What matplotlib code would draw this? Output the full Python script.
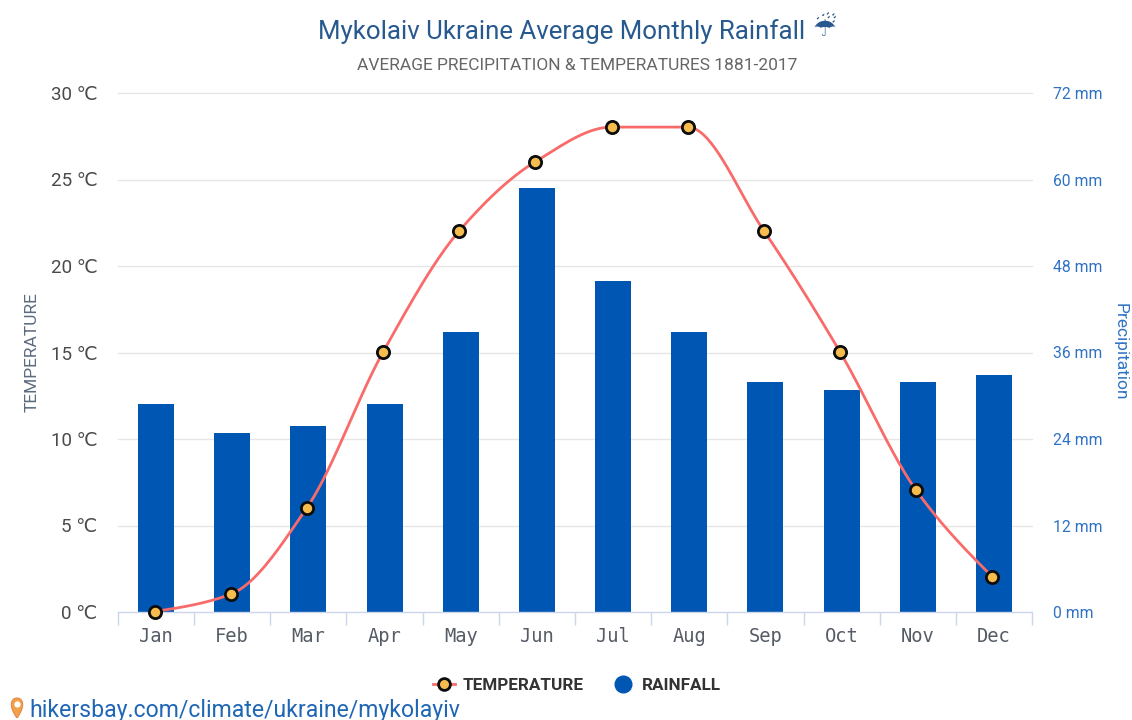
import numpy as np
import matplotlib
matplotlib.use("Agg")
import matplotlib.pyplot as plt
from matplotlib.lines import Line2D
from matplotlib.path import Path
from matplotlib.patches import PathPatch
from matplotlib.transforms import ScaledTranslation

months = ["Jan", "Feb", "Mar", "Apr", "May", "Jun", "Jul", "Aug", "Sep", "Oct", "Nov", "Dec"]
temperature = [0, 1, 6, 15, 22, 26, 28, 28, 22, 15, 7, 2]
rainfall = [29, 25, 26, 29, 39, 59, 46, 39, 32, 31, 32, 33]
temp_ticks = [0, 5, 10, 15, 20, 25, 30]
rain_ticks = [0, 12, 24, 36, 48, 60, 72]

W, H = 1132, 720
FONT = ["Roboto", "DejaVu Sans"]
plt.rcParams["font.family"] = FONT


def monotone_curve(xs, ys, n=40):
    """Monotone cubic smoothing through the data points."""
    xs = np.asarray(xs, float)
    ys = np.asarray(ys, float)
    d = np.diff(ys) / np.diff(xs)
    m = np.zeros_like(ys)
    for i in range(1, len(ys) - 1):
        m[i] = 0 if d[i - 1] * d[i] <= 0 else 2 * d[i - 1] * d[i] / (d[i - 1] + d[i])
    m[0] = (3 * d[0] - m[1]) / 2
    m[-1] = (3 * d[-1] - m[-2]) / 2
    ox, oy = [], []
    for i in range(len(xs) - 1):
        t = np.linspace(0, 1, n)
        h = xs[i + 1] - xs[i]
        oy.append((2*t**3 - 3*t**2 + 1) * ys[i] + (t**3 - 2*t**2 + t) * h * m[i]
                  + (-2*t**3 + 3*t**2) * ys[i + 1] + (t**3 - t**2) * h * m[i + 1])
        ox.append(xs[i] + t * h)
    return np.concatenate(ox), np.concatenate(oy)


fig = plt.figure(figsize=(W / 100, H / 100), dpi=100, facecolor="white")
left, right, top, bottom = 118, 1032, 93, 612
ax = fig.add_axes([left / W, 1 - bottom / H, (right - left) / W, (bottom - top) / H])
ax2 = ax.twinx()

x = np.arange(len(months))
bar_shift = ax2.transData + ScaledTranslation(0, -1 / 100, fig.dpi_scale_trans)
ax2.bar(x, rainfall, width=0.473, color="#0057b3", zorder=2, transform=bar_shift)
ax2.set_ylim(0, 72)
ax2.set_yticks(rain_ticks)
ax2.set_yticklabels([f"{v} mm" for v in rain_ticks], color="#2f72c4", fontsize=11.3)
ax2.tick_params(axis="y", length=0, pad=15)
ax2.set_ylabel("Precipitation", color="#2f72c4", fontsize=12.5, rotation=270, labelpad=0)
ax2.yaxis.set_label_coords((1128 - left) / (right - left), (bottom - 352) / (bottom - top))

ax.set_zorder(ax2.get_zorder() + 1)
ax.patch.set_visible(False)
ax2.patch.set_facecolor("white")
ax.set_xlim(-0.5, 11.5)
ax.set_ylim(0, 30)
shift = ax.transData + ScaledTranslation(-1.5 / 100, 0.5 / 100, fig.dpi_scale_trans)
cx, cy = monotone_curve(x, temperature)
ax.plot(cx, cy, color="#f96b6b", lw=2, zorder=3, clip_on=False, transform=shift)
ax.plot(x, temperature, ls="none", marker="o", ms=8.8, mfc="#f6bd4e", mec="#0c0c0c",
        mew=2, zorder=4, clip_on=False, transform=shift)
ax.set_yticks(temp_ticks)
ax.set_yticklabels([f"{v} ℃" for v in temp_ticks], color="#4a4a4a", fontsize=13.5)
ax.tick_params(axis="y", length=0, pad=14.7)
ax.set_ylabel("TEMPERATURE", color="#5c6b80", fontsize=12.5)
ax.yaxis.set_label_coords((40 - left) / (right - left), (bottom - 352) / (bottom - top))
ax.set_xticks(np.arange(-0.5, 12, 1))
ax.set_xticklabels([])
ax.set_xticks(x, minor=True)
ax.set_xticklabels(months, minor=True, family="DejaVu Sans Mono", fontsize=13.5, color="#555c66")
ax.tick_params(axis="x", which="major", length=9.5, width=1, color="#ccd6eb")
ax.tick_params(axis="x", which="minor", length=0, pad=11)

# Gridlines are on the back axes so the bars cover them.
ax2.set_axisbelow(True)
for v in rain_ticks[1:]:
    ax2.axhline(v, color="#e6e6e6", lw=1, zorder=1, clip_on=False)

for a in (ax, ax2):
    for s in a.spines.values():
        s.set_visible(False)
ax.spines["bottom"].set_visible(True)
ax.spines["bottom"].set_color("#ccd6eb")
ax.spines["bottom"].set_linewidth(1)

fig.text(562 / W, 1 - 31.5 / H, "Mykolaiv Ukraine Average Monthly Rainfall", color="#27598f", fontsize=18.6,
         ha="center", va="center")
fig.text(824 / W, 1 - 29 / H, "☔", color="#27598f", fontsize=19, ha="center", va="center",
         family="DejaVu Sans")
fig.text(577.5 / W, 1 - 65.5 / H, "AVERAGE PRECIPITATION & TEMPERATURES 1881-2017", color="#666666",
         fontsize=12.5, ha="center", va="center")

# Legend
ly = 1 - 684 / H
fig.add_artist(Line2D([433 / W, 455 / W], [ly, ly], color="#f96b6b", lw=2))
fig.add_artist(Line2D([444 / W], [ly], ls="none", marker="o", ms=8.5, mfc="#f6bd4e", mec="#0c0c0c", mew=2))
fig.text(463 / W, ly - 1.5 / H, "TEMPERATURE", color="#333333", fontsize=12.3, fontweight="bold", va="center")
fig.add_artist(Line2D([623 / W], [ly], ls="none", marker="o", ms=12, mfc="#0057b3", mec="#0057b3"))
fig.text(642 / W, ly - 1.5 / H, "RAINFALL", color="#333333", fontsize=12.3, fontweight="bold", va="center")

# Map pin and link
px, py = 17, 706
to_fig = lambda a, b: ((px + a) / W, 1 - (py + b) / H)
verts = [to_fig(0, 12), to_fig(-9, 0), to_fig(-6, -8), to_fig(0, -8), to_fig(6, -8), to_fig(9, 0), to_fig(0, 12)]
codes = [Path.MOVETO, Path.CURVE4, Path.CURVE4, Path.CURVE4, Path.CURVE4, Path.CURVE4, Path.CURVE4]
fig.add_artist(PathPatch(Path(verts, codes), transform=fig.transFigure, fc="#f0a24a", ec="#e8894a", lw=0.8))
fig.add_artist(Line2D([px / W], [1 - (py - 2) / H], ls="none", marker="o", ms=4.5, mfc="white", mec="none"))
fig.text(29 / W, 1 - 710 / H, "hikersbay.com/climate/ukraine/mykolayiv", color="#1f66b5", fontsize=16.55, va="center")

fig.savefig("out.png", dpi=100)
